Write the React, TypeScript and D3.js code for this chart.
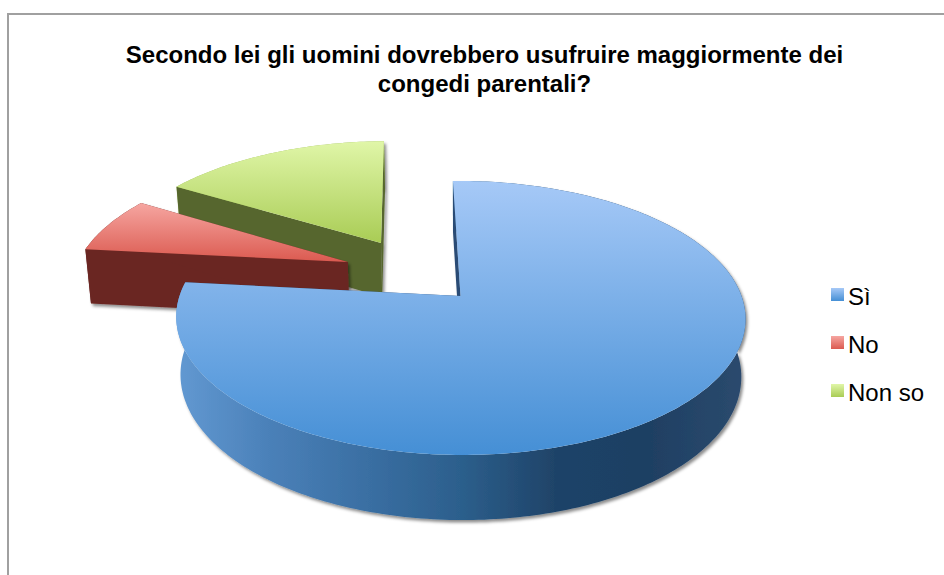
import React from "react";
import * as d3 from "d3";

const W = 944, H = 575;
const titleLines = ["Secondo lei gli uomini dovrebbero usufruire maggiormente dei", "congedi parentali?"];
const categories = ["Sì", "No", "Non so"];
const values = [77, 7, 16];
const explodeU = [0, -0.416, -0.298];
const explodeV = [0, -0.2655, -0.424];
const topLight = ["#a6c9f7", "#f6a6a1", "#e0f6a8"];
const topDark = ["#458fd5", "#db5a50", "#a9cc55"];
const edgeWall = ["#2c4c74", "#6a2622", "#56662e"];
const outerWallStops: string[][] = [
  ["#6299d2", "#4a80b8", "#3a6fa3", "#2c5f8c", "#1f4368", "#1f4063", "#2b4a6e"],
  ["#6a2824", "#6a2824"],
  ["#9ab858", "#9ab858"],
];

const ROT = (-1.2 * Math.PI) / 180;
const A = 281, B = 133.5, K = 0.16, X0 = 458, Y0 = 296, D = 56.7, SC = 0.985, SKEW = 5;

function project(u: number, v: number, z: number): [number, number] {
  const den = 1 - K * v;
  const s = z ? SC : 1;
  return [X0 + (A * s * u) / den + SKEW * (v + 1) * 0.5, Y0 + (B * s * v) / den + (z * D) / den];
}

const pie = d3.pie<number>().sort(null).startAngle(ROT).endAngle(ROT + 2 * Math.PI);
const arcs = pie(values);
const line = d3.line();

function rim(a0: number, a1: number, i: number, z: number): [number, number][] {
  const n = Math.max(8, Math.ceil(((a1 - a0) * 180) / Math.PI));
  const t = d3.scaleLinear().domain([0, n]).range([a0, a1]);
  return d3.range(n + 1).map((k) => project(explodeU[i] + Math.sin(t(k)), explodeV[i] - Math.cos(t(k)), z));
}

export default function App() {
  const slices = arcs.map((a, i) => {
    const apexT = project(explodeU[i], explodeV[i], 0);
    const apexB = project(explodeU[i], explodeV[i], 1);
    const rT = rim(a.startAngle, a.endAngle, i, 0);
    const rB = rim(a.startAngle, a.endAngle, i, 1);
    const ys = rT.map((p) => p[1]).concat(apexT[1]);
    const xs = rT.concat(rB).map((p) => p[0]);
    return { i, apexT, apexB, rT, rB, y0: d3.min(ys)!, y1: d3.max(ys)!, x0: d3.min(xs)!, x1: d3.max(xs)! };
  });
  const legendY = d3.scalePoint<string>().domain(categories).range([295, 391]);
  return (
    <svg width={W} height={H} style={{ position: "absolute", left: 0, top: 0 }} fontFamily="'Liberation Sans', Arial, sans-serif">
      <defs>
        <filter id="sh" x="-10%" y="-10%" width="120%" height="125%">
          <feDropShadow dx="2" dy="2.5" stdDeviation="1.8" floodColor="#000" floodOpacity="0.45" />
        </filter>
        {slices.map((s) => (
          <React.Fragment key={s.i}>
            <linearGradient id={`top${s.i}`} gradientUnits="userSpaceOnUse" x1="0" x2="0" y1={s.y0} y2={s.y1}>
              <stop offset="0" stopColor={topLight[s.i]} />
              <stop offset="1" stopColor={topDark[s.i]} />
            </linearGradient>
            <linearGradient id={`wall${s.i}`} gradientUnits="userSpaceOnUse" x1={s.x0} x2={s.x1} y1="0" y2="0">
              {outerWallStops[s.i].map((c, k, all) => (
                <stop key={k} offset={k / (all.length - 1)} stopColor={c} />
              ))}
            </linearGradient>
            <linearGradient id={`leg${s.i}`} x1="0" x2="0" y1="0" y2="1">
              <stop offset="0" stopColor={topLight[s.i]} />
              <stop offset="1" stopColor={topDark[s.i]} />
            </linearGradient>
          </React.Fragment>
        ))}
      </defs>
      <rect width={W} height={H} fill="#fff" />
      <path d={`M8,${H} V14 H${W}`} fill="none" stroke="#a0a0a0" strokeWidth={2} />
      <g fontWeight="bold" fontSize={24} textAnchor="middle" fill="#000">
        {titleLines.map((t, k) => (
          <text key={k} x={484.5} y={63 + k * 29}>{t}</text>
        ))}
      </g>
      {[2, 1, 0].map((i) => {
        const s = slices[i];
        const first = s.rT[0], last = s.rT[s.rT.length - 1];
        const firstB = s.rB[0], lastB = s.rB[s.rB.length - 1];
        const outer = [...s.rT, ...s.rB.slice().reverse()] as [number, number][];
        const top = [s.apexT, ...s.rT] as [number, number][];
        return (
          <g key={i}>
            <g filter="url(#sh)">
              <path d={line(outer)! + "Z"} fill={`url(#wall${i})`} />
              <path d={line([s.apexT, first, firstB, s.apexB])! + "Z"} fill={edgeWall[i]} />
              <path d={line([s.apexT, last, lastB, s.apexB])! + "Z"} fill={edgeWall[i]} />
            </g>
            <path d={line(top)! + "Z"} fill={`url(#top${i})`} />
          </g>
        );
      })}
      {categories.map((c, i) => (
        <g key={c}>
          <rect x={831} y={legendY(c)! - 7} width={13} height={13} fill={`url(#leg${i})`} />
          <text x={848} y={legendY(c)! + 9.5} fontSize={24} fill="#000">{c}</text>
        </g>
      ))}
    </svg>
  );
}
